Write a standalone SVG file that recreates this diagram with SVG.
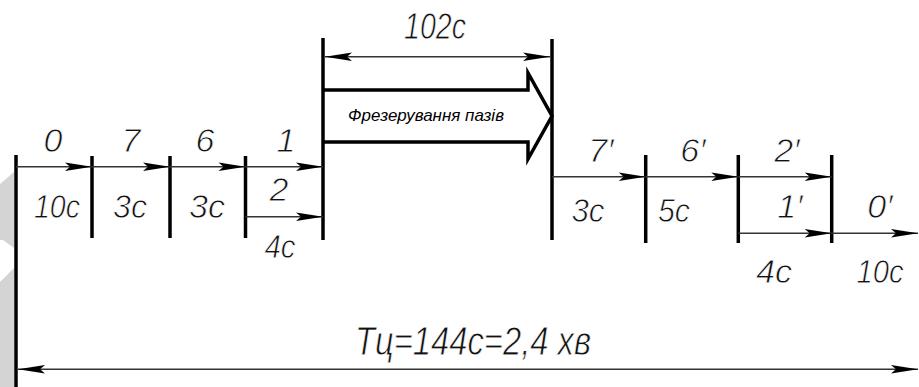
<svg xmlns="http://www.w3.org/2000/svg" width="919" height="387" viewBox="0 0 919 387">
<style>
.t{font-family:"Liberation Sans",Arial,sans-serif;font-style:italic;fill:#111;text-anchor:middle;stroke:#fff;stroke-width:0.8}
.l{font-size:34px}
.s{stroke:none;fill:#000}
.tick{stroke:#000;stroke-width:3.5;fill:none}
.thin{stroke:#333;stroke-width:1.5;fill:none;marker-end:url(#ah)}
.dim{stroke:#333;stroke-width:1.5;fill:none;marker-end:url(#ah);marker-start:url(#ah)}
.wm{fill:#d4d4d4}
</style>
<defs>
<marker id="ah" viewBox="-29 -5 30 10" markerWidth="30" markerHeight="10" refX="0" refY="0" orient="auto-start-reverse" markerUnits="userSpaceOnUse">
<path d="M0,0 L-27,-4.2 L-22,0 L-27,4.2 Z" fill="#000"/>
</marker>
</defs>
<rect width="919" height="387" fill="#fff"/>
<g id="watermark">
<polygon class="wm" points="0,184 14,172 14,248 3,240 0,240"/>
<polygon class="wm" points="0,282 14,268 14,387 0,387"/>
</g>
<g id="frame">
<line class="tick" x1="16" y1="155" x2="16" y2="387"/>
<line class="tick" x1="92" y1="156" x2="92" y2="238"/>
<line class="tick" x1="170" y1="156" x2="170" y2="238"/>
<line class="tick" x1="245.5" y1="156" x2="245.5" y2="238"/>
<line class="tick" x1="323" y1="38" x2="323" y2="240"/>
<line class="tick" x1="552" y1="39" x2="552" y2="240"/>
<line class="tick" x1="645.7" y1="155" x2="645.7" y2="243"/>
<line class="tick" x1="738.3" y1="155" x2="738.3" y2="243"/>
<line class="tick" x1="831.7" y1="155" x2="831.7" y2="243"/>
</g>
<g id="connectors">
<line class="thin" x1="16" y1="166.7" x2="92" y2="166.7"/>
<line class="thin" x1="92" y1="166.7" x2="170" y2="166.7"/>
<line class="thin" x1="170" y1="166.7" x2="245.5" y2="166.7"/>
<line class="thin" x1="245.5" y1="166.7" x2="323" y2="166.7"/>
<line class="thin" x1="245.5" y1="216.7" x2="323" y2="216.7"/>
<line class="thin" x1="552" y1="176.7" x2="645.7" y2="176.7"/>
<line class="thin" x1="645.7" y1="176.7" x2="738.3" y2="176.7"/>
<line class="thin" x1="738.3" y1="176.7" x2="831.7" y2="176.7"/>
<line class="thin" x1="738.3" y1="233.3" x2="831.7" y2="233.3"/>
<line class="thin" x1="831.7" y1="233.3" x2="918" y2="233.3"/>
<line class="dim" x1="325" y1="56.7" x2="550" y2="56.7"/>
<line class="dim" x1="18" y1="369.3" x2="918" y2="369.3"/>
</g>
<g id="op0"><text class="t l" x="53" y="152">0</text><text class="t l" x="57" y="218" textLength="46" lengthAdjust="spacingAndGlyphs">10с</text></g>
<g id="op7"><text class="t l" x="131" y="152">7</text><text class="t l" x="130" y="218" textLength="34" lengthAdjust="spacingAndGlyphs">3с</text></g>
<g id="op6"><text class="t l" x="205" y="152">6</text><text class="t l" x="207" y="218" textLength="36" lengthAdjust="spacingAndGlyphs">3с</text></g>
<g id="op1"><text class="t l" x="286" y="152">1</text><text class="t l" x="279" y="201">2</text><text class="t l" x="280" y="258" textLength="31" lengthAdjust="spacingAndGlyphs">4с</text></g>
<g id="milling">
<path d="M323,90 H528 V73 L552,116 L528,159 V142 H323" fill="none" stroke="#000" stroke-width="3.5" stroke-linejoin="miter"/>
<text class="t s" x="426" y="121" font-size="17" textLength="156" lengthAdjust="spacingAndGlyphs">Фрезерування пазів</text>
<text class="t" x="435" y="39" font-size="36" textLength="62" lengthAdjust="spacingAndGlyphs">102с</text>
</g>
<g id="op7p"><text class="t l" x="601" y="162">7′</text><text class="t l" x="588" y="222" textLength="33" lengthAdjust="spacingAndGlyphs">3с</text></g>
<g id="op6p"><text class="t l" x="693" y="162">6′</text><text class="t l" x="674" y="222" textLength="32" lengthAdjust="spacingAndGlyphs">5с</text></g>
<g id="op2p"><text class="t l" x="787" y="162">2′</text><text class="t l" x="790" y="218">1′</text><text class="t l" x="774" y="283" textLength="36" lengthAdjust="spacingAndGlyphs">4с</text></g>
<g id="op0p"><text class="t l" x="880" y="218">0′</text><text class="t l" x="880" y="283" textLength="47" lengthAdjust="spacingAndGlyphs">10с</text></g>
<g id="cycle"><text class="t" x="473" y="355" font-size="41" textLength="236" lengthAdjust="spacingAndGlyphs">Тц=144с=2,4 хв</text></g>
</svg>
